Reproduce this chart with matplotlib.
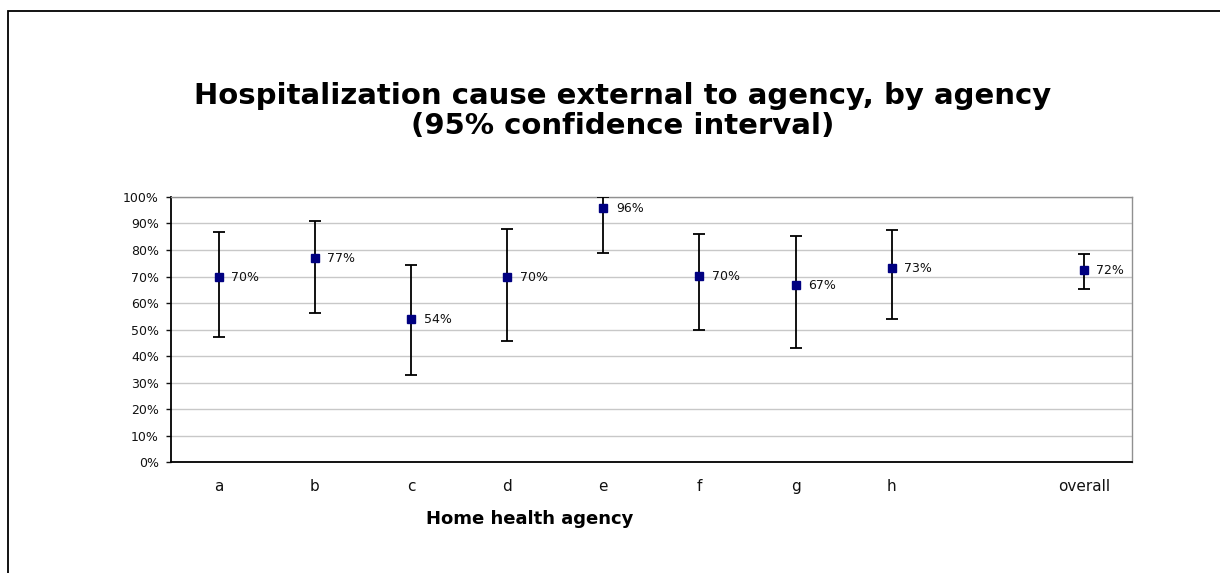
import numpy as np
import matplotlib
matplotlib.use("Agg")
import matplotlib.pyplot as plt
from matplotlib.patches import Rectangle
from matplotlib.ticker import PercentFormatter


# Daten, leerer Platz vor "overall"
categories = ['a', 'b', 'c', 'd', 'e', 'f', 'g', 'h', '', 'overall']
estimate = [0.697, 0.769, 0.538, 0.697, 0.957, 0.701, 0.667, 0.732, np.nan, 0.723]
ci_lower = [0.470, 0.562, 0.327, 0.457, 0.789, 0.497, 0.429, 0.541, np.nan, 0.654]
ci_upper = [0.867, 0.909, 0.742, 0.879, 1.000, 0.862, 0.853, 0.875, np.nan, 0.784]

title = "Hospitalization cause external to agency, by agency\n(95% confidence interval)"
x_title = "Home health agency"


def main():
    fig = plt.figure(figsize=(12.2, 5.73), dpi=100)
    ax = fig.add_axes([0.1399, 0.1937, 0.788, 0.4625])

    x = np.arange(len(categories))
    est = np.array(estimate)
    err = np.vstack([est - np.array(ci_lower), np.array(ci_upper) - est])

    ax.errorbar(x, est, yerr=err, fmt='s', color='#000080', markersize=6,
                ecolor='black', elinewidth=1.3, capsize=4, capthick=1.3, zorder=3)

    # Beschriftung der Punkte
    for xi, v in zip(x, est):
        if np.isnan(v):
            continue
        ax.annotate(f"{v:.0%}", (xi, v), xytext=(9, 0), textcoords='offset points',
                    ha='left', va='center', fontsize=9, color='#111111')

    ax.set_xlim(-0.5, len(categories) - 0.5)
    ax.set_ylim(0, 1)
    ax.set_yticks(np.arange(0, 1.01, 0.1))
    ax.yaxis.set_major_formatter(PercentFormatter(1.0, decimals=0))
    ax.set_xticks(x)
    ax.set_xticklabels(categories, fontsize=11)
    ax.tick_params(axis='x', length=0, pad=12, colors='#111111')
    ax.tick_params(axis='y', length=3.5, width=1, labelsize=9, pad=5, colors='#111111')

    ax.grid(axis='y', color='#c8c8c8', linewidth=1)
    ax.set_axisbelow(True)
    for side in ['top', 'right']:
        ax.spines[side].set_color('#909090')
        ax.spines[side].set_linewidth(1)
    for side in ['left', 'bottom']:
        ax.spines[side].set_color('black')
        ax.spines[side].set_linewidth(1.3)

    fig.text(0.51, 1 - 111 / 573, title, ha='center', va='center',
             fontsize=21, fontweight='bold', linespacing=1.05)
    fig.text(530 / 1220, 1 - 519 / 573, x_title, ha='center', va='center',
             fontsize=13, fontweight='bold')

    # Rahmen um die Grafik (rechts und unten abgeschnitten)
    border = Rectangle((7.5 / 1220, -0.05), 1.1, 1.05 - 11.5 / 573,
                       transform=fig.transFigure, fill=False,
                       edgecolor='black', linewidth=1.3, clip_on=False)
    fig.patches.append(border)

    fig.savefig("out.png", dpi=100)
    plt.close(fig)


if __name__ == "__main__":
    main()
